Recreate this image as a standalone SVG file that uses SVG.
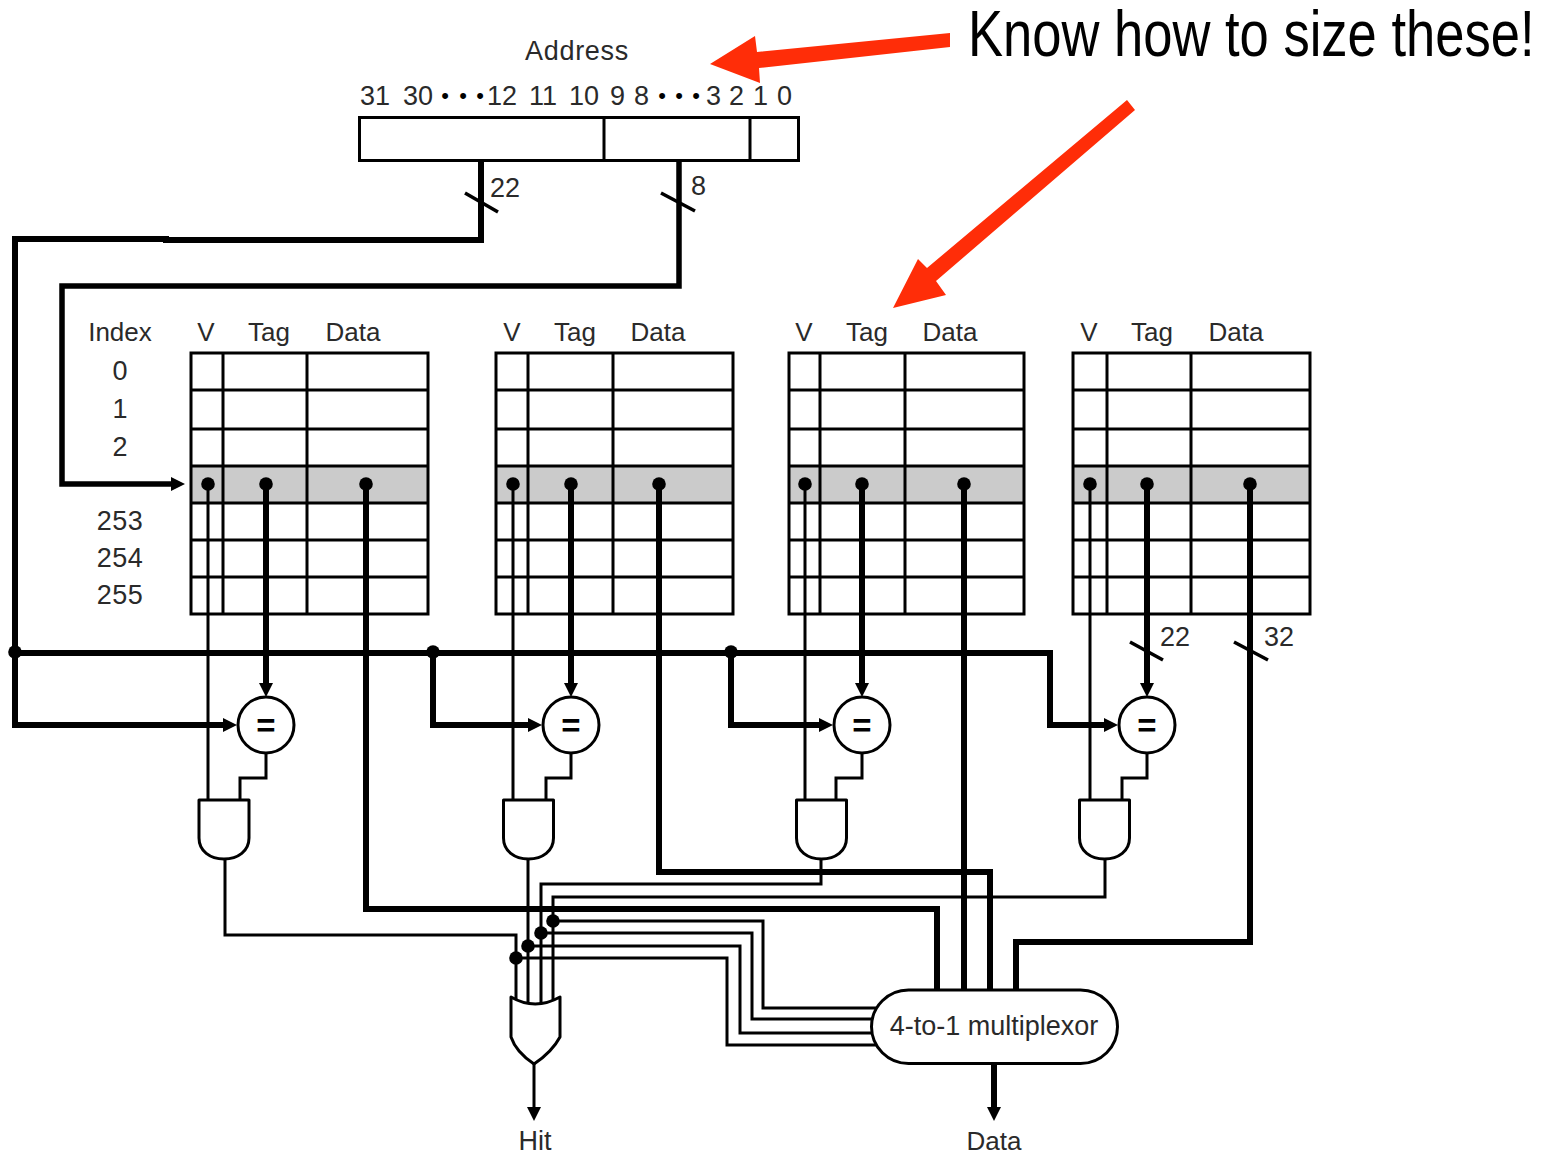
<svg xmlns="http://www.w3.org/2000/svg" xmlns:xlink="http://www.w3.org/1999/xlink" width="1554" height="1155" viewBox="0 0 1554 1155">
<style>
text{font-family:"Liberation Sans",Arial,sans-serif;font-size:27px;fill:#2a2a2a}
.m{text-anchor:middle}
.h{font-size:26px}
.n{letter-spacing:.5px}
.box{fill:#fff;stroke:#000;stroke-width:3}
.grid{fill:none;stroke:#000;stroke-width:3}
.band{fill:#cbcbcb}
.w{fill:none;stroke:#000;stroke-width:3}
.b{fill:none;stroke:#000;stroke-width:6}
.t{fill:none;stroke:#000;stroke-width:3.5}
.gate{fill:#fff;stroke:#000;stroke-width:3;stroke-linejoin:round}
.eq{font-family:"Liberation Sans",Arial,sans-serif;font-size:33px;font-weight:bold;fill:#000;text-anchor:middle}
.red{fill:#ff2d08}
</style>
<defs>
<path id="and" class="gate" d="M0 800H50V838C50 851 39 859 25 859C11 859 0 851 0 838Z"/>
<circle id="dot" r="6.8" fill="#000"/>
<polygon id="ad" points="-7,-14 7,-14 0,0" fill="#000"/>
<polygon id="ar" points="-14,-7 -14,7 0,0" fill="#000"/>
</defs>
<rect width="1554" height="1155" fill="#fff"/>

<g id="address">
<text class="m" x="577" y="60" style="letter-spacing:.7px">Address</text>
<text y="105"><tspan x="360">31</tspan><tspan x="403">30</tspan><tspan x="487">12</tspan><tspan x="529">11</tspan><tspan x="569">10</tspan><tspan x="610">9</tspan><tspan x="634">8</tspan><tspan x="706">3</tspan><tspan x="729">2</tspan><tspan x="753">1</tspan><tspan x="777">0</tspan></text>
<text class="m" y="103" style="font-size:22px;fill:#000"><tspan x="445">•</tspan><tspan x="463">•</tspan><tspan x="480">•</tspan><tspan x="662">•</tspan><tspan x="679">•</tspan><tspan x="696">•</tspan></text>
<rect class="box" x="359.500" y="117.500" width="439" height="43"/>
<path class="grid" d="M604 117V161M750 117V161"/>
</g>

<g id="index-labels">
<text class="m h" x="120" y="341">Index</text>
<text class="m" x="120" y="380">0</text>
<text class="m" x="120" y="418">1</text>
<text class="m" x="120" y="456">2</text>
<text class="m n" x="120" y="530">253</text>
<text class="m n" x="120" y="567">254</text>
<text class="m n" x="120" y="604">255</text>
</g>

<g id="way-1">
<text class="m h" x="206" y="341">V</text><text class="m h" x="269" y="341">Tag</text><text class="m h" x="353" y="341">Data</text>
<rect class="band" x="191" y="466" width="237" height="37"/>
<rect class="grid" x="191" y="353" width="237" height="261"/>
<path class="grid" d="M191 390H428M191 429H428M191 466H428M191 503H428M191 540H428M191 577H428M223 353V614M307 353V614"/>
</g>
<g id="way-2">
<text class="m h" x="512" y="341">V</text><text class="m h" x="575" y="341">Tag</text><text class="m h" x="658" y="341">Data</text>
<rect class="band" x="496" y="466" width="237" height="37"/>
<rect class="grid" x="496" y="353" width="237" height="261"/>
<path class="grid" d="M496 390H733M496 429H733M496 466H733M496 503H733M496 540H733M496 577H733M528 353V614M613 353V614"/>
</g>
<g id="way-3">
<text class="m h" x="804" y="341">V</text><text class="m h" x="867" y="341">Tag</text><text class="m h" x="950" y="341">Data</text>
<rect class="band" x="789" y="466" width="235" height="37"/>
<rect class="grid" x="789" y="353" width="235" height="261"/>
<path class="grid" d="M789 390H1024M789 429H1024M789 466H1024M789 503H1024M789 540H1024M789 577H1024M820 353V614M905 353V614"/>
</g>
<g id="way-4">
<text class="m h" x="1089" y="341">V</text><text class="m h" x="1152" y="341">Tag</text><text class="m h" x="1236" y="341">Data</text>
<rect class="band" x="1073" y="466" width="237" height="37"/>
<rect class="grid" x="1073" y="353" width="237" height="261"/>
<path class="grid" d="M1073 390H1310M1073 429H1310M1073 466H1310M1073 503H1310M1073 540H1310M1073 577H1310M1107 353V614M1191 353V614"/>
</g>

<g id="connectors">
<path class="b" d="M481 161V240H166V239H15V725H226"/>
<path class="b" style="stroke-width:5.500" d="M679 161V286H62V484H172"/>
<use xlink:href="#ar" href="#ar" x="185" y="484"/>
<path class="t" d="M465 193L498 212M661 193L695 211M1130 642L1163 660M1234 642L1268 660"/>
<!-- bus -->
<path class="b" d="M15 653H1050V725H1106"/>
<path class="b" d="M433 653V725H530"/>
<path class="b" d="M731 653V725H822"/>
<use xlink:href="#dot" href="#dot" x="15" y="652"/><use xlink:href="#dot" href="#dot" x="433" y="652"/><use xlink:href="#dot" href="#dot" x="731" y="652"/>
<use xlink:href="#ar" href="#ar" x="237" y="725"/><use xlink:href="#ar" href="#ar" x="542" y="725"/><use xlink:href="#ar" href="#ar" x="833" y="725"/><use xlink:href="#ar" href="#ar" x="1118" y="725"/>
<!-- valid lines -->
<path class="w" d="M208 484V800M513 484V800M805 484V800M1090 484V800"/>
<!-- tag lines -->
<path class="b" d="M266 484V684M571 484V684M862 484V684M1147 484V684"/>
<use xlink:href="#ad" href="#ad" x="266" y="697"/><use xlink:href="#ad" href="#ad" x="571" y="697"/><use xlink:href="#ad" href="#ad" x="862" y="697"/><use xlink:href="#ad" href="#ad" x="1147" y="697"/>
<!-- data lines -->
<path class="b" d="M366 484V909H937V990"/>
<path class="b" d="M659 484V872H990V990"/>
<path class="b" d="M964 484V990"/>
<path class="b" d="M1250 484V942H1016V990"/>
<g id="row-dots">
<use xlink:href="#dot" href="#dot" x="208" y="484"/><use xlink:href="#dot" href="#dot" x="266" y="484"/><use xlink:href="#dot" href="#dot" x="366" y="484"/>
<use xlink:href="#dot" href="#dot" x="513" y="484"/><use xlink:href="#dot" href="#dot" x="571" y="484"/><use xlink:href="#dot" href="#dot" x="659" y="484"/>
<use xlink:href="#dot" href="#dot" x="805" y="484"/><use xlink:href="#dot" href="#dot" x="862" y="484"/><use xlink:href="#dot" href="#dot" x="964" y="484"/>
<use xlink:href="#dot" href="#dot" x="1090" y="484"/><use xlink:href="#dot" href="#dot" x="1147" y="484"/><use xlink:href="#dot" href="#dot" x="1250" y="484"/>
</g>
<!-- comparator to AND -->
<path class="w" d="M266 753V778H240V800M571 753V778H546V800M862 753V778H836V800M1147 753V778H1122V800"/>
<!-- AND outputs -->
<path class="w" d="M225 859V935H516V1003"/>
<path class="w" d="M528 859V1003"/>
<path class="w" d="M821 859V884H541V1003"/>
<path class="w" d="M1105 859V897H553V1003"/>
<!-- select lines -->
<path class="w" d="M553 921H763V1008H880"/>
<path class="w" d="M541 933H752V1019H880"/>
<path class="w" d="M528 946H740V1033H880"/>
<path class="w" d="M516 958H727V1045H880"/>
<use xlink:href="#dot" href="#dot" x="553" y="921"/><use xlink:href="#dot" href="#dot" x="541" y="933"/><use xlink:href="#dot" href="#dot" x="528" y="946"/><use xlink:href="#dot" href="#dot" x="516" y="958"/>
<!-- outputs -->
<path class="w" d="M534 1064V1110"/>
<use xlink:href="#ad" href="#ad" x="534" y="1121"/>
<path class="b" d="M994 1063V1110"/>
<use xlink:href="#ad" href="#ad" x="994" y="1121"/>
</g>

<g id="width-labels">
<text x="490" y="197">22</text>
<text x="691" y="195">8</text>
<text x="1160" y="646">22</text>
<text x="1264" y="646">32</text>
</g>

<g id="cmp-1"><circle class="gate" cx="266" cy="725" r="28"/><text class="eq" x="266" y="737">=</text></g>
<g id="cmp-2"><circle class="gate" cx="571" cy="725" r="28"/><text class="eq" x="571" y="737">=</text></g>
<g id="cmp-3"><circle class="gate" cx="862" cy="725" r="28"/><text class="eq" x="862" y="737">=</text></g>
<g id="cmp-4"><circle class="gate" cx="1147" cy="725" r="28"/><text class="eq" x="1147" y="737">=</text></g>

<g id="and-1"><use xlink:href="#and" href="#and" x="199"/></g>
<g id="and-2"><use xlink:href="#and" href="#and" x="503.500"/></g>
<g id="and-3"><use xlink:href="#and" href="#and" x="796.500"/></g>
<g id="and-4"><use xlink:href="#and" href="#and" x="1079.500"/></g>

<g id="or-gate"><path class="gate" d="M511 997Q535 1011 560 997V1037Q552 1052 534 1064Q516 1052 511 1037Z"/></g>
<g id="mux">
<rect class="gate" x="871.500" y="990" width="246" height="73.500" rx="37" ry="36.700"/>
<text class="m" x="994" y="1035">4-to-1 multiplexor</text>
</g>
<g id="hit-label"><text class="m" x="535" y="1150">Hit</text></g>
<g id="data-label"><text class="m h" x="994" y="1150">Data</text></g>

<g id="annotation">
<text transform="translate(968 56) scale(.821 1)" style="font-size:64px;fill:#000">Know how to size these!</text>
<polygon class="red" points="710,64 755,36 757,52 950,33 950,47 759,68 760,83"/>
<polygon class="red" points="893,308 918,259 927,268 1127,100 1135,110 936,281 946,295"/>
</g>
</svg>
